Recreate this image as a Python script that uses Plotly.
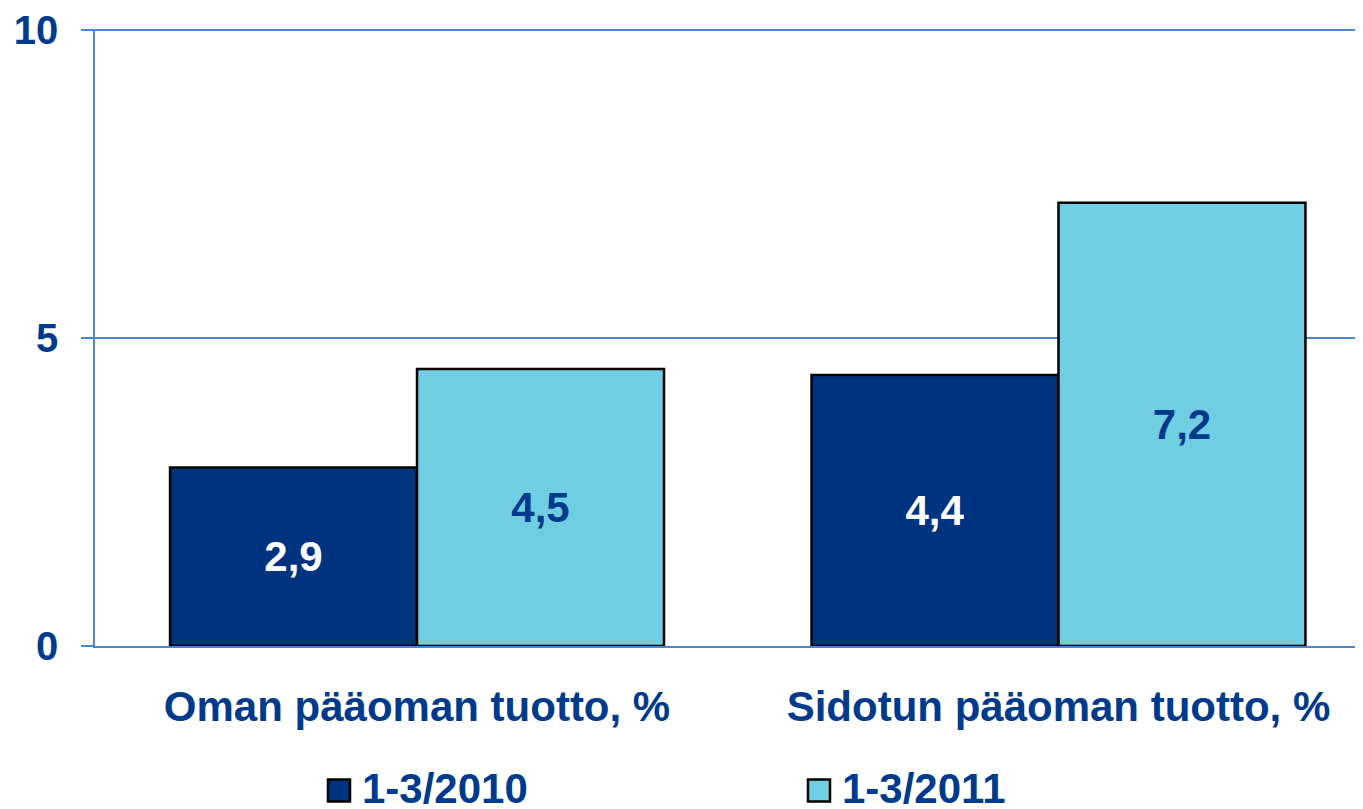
import plotly.graph_objects as go

categories = ["Oman pääoman tuotto, %", "Sidotun pääoman tuotto, %"]
series_names = ["1-3/2010", "1-3/2011"]
values_2010 = [2.9, 4.4]
values_2011 = [4.5, 7.2]
labels_2010 = ["2,9", "4,4"]
labels_2011 = ["4,5", "7,2"]
y_ticks = [0, 5, 10]

FONT = "Arial, Liberation Sans, sans-serif"
NAVY = "#003A8A"
DARK = "#00337F"
LIGHT = "#70CEE2"
GRID = "#4A86D4"

OFF = 8  # page body margin offset

fig = go.Figure()
fig.add_trace(go.Bar(
    x=[0, 1], y=values_2010, name=series_names[0], text=labels_2010,
    textposition="inside", insidetextanchor="middle", textangle=0,
    constraintext="none",
    textfont=dict(family=FONT, size=42, color="white", weight="bold"),
    marker=dict(color=DARK, line=dict(color="black", width=2.5)),
    showlegend=False,
))
fig.add_trace(go.Bar(
    x=[0, 1], y=values_2011, name=series_names[1], text=labels_2011,
    textposition="inside", insidetextanchor="middle", textangle=0,
    constraintext="none",
    textfont=dict(family=FONT, size=42, color=NAVY, weight="bold"),
    marker=dict(color=LIGHT, line=dict(color="black", width=2.5)),
    showlegend=False,
))

fig.update_layout(
    width=1363 - OFF, height=809 - OFF,
    margin=dict(l=95 - OFF, r=0, t=27 - OFF, b=163),
    paper_bgcolor="white", plot_bgcolor="white",
    barmode="group", bargap=0.23, bargroupgap=0,
    font=dict(family=FONT, color=NAVY),
    showlegend=False,
)
fig.update_xaxes(
    range=[-0.502, 1.4747], tickmode="array", tickvals=[0, 1], ticktext=categories,
    tickfont=dict(family=FONT, size=42, color=NAVY, weight="bold"),
    showgrid=False, showline=True, linecolor=GRID, linewidth=1.5,
    ticks="", ticklabelstandoff=23, zeroline=False,
)
fig.update_yaxes(
    range=[0, 10.02], tickmode="array", tickvals=y_ticks,
    tickfont=dict(family=FONT, size=40, color=NAVY, weight="bold"),
    ticklabeloverflow="allow",
    showgrid=True, gridcolor=GRID, gridwidth=1.5,
    showline=True, linecolor=GRID, linewidth=1.5,
    ticks="outside", ticklen=12, tickcolor=GRID, tickwidth=1.5,
    ticklabelstandoff=15, zeroline=False,
)

# Legend drawn manually (square swatches + names); coordinates in page pixels
plot_l, plot_w = 95, 1268
plot_b, plot_h = 646, 619
def px_x(p):
    return (p - plot_l) / plot_w
def px_y(p):
    return (plot_b - p) / plot_h

swatches = [(328, DARK), (808, LIGHT)]
for (sx, col), name in zip(swatches, series_names):
    fig.add_shape(type="rect", xref="paper", yref="paper",
                  x0=px_x(sx), x1=px_x(sx + 22), y0=px_y(780), y1=px_y(802),
                  fillcolor=col, line=dict(color="black", width=2.5))
    fig.add_annotation(xref="paper", yref="paper", x=px_x(sx + 32), y=px_y(789),
                       xanchor="left", yanchor="middle", showarrow=False,
                       text=name, font=dict(family=FONT, size=42, color=NAVY, weight="bold"))

fig.write_html("out.html")
